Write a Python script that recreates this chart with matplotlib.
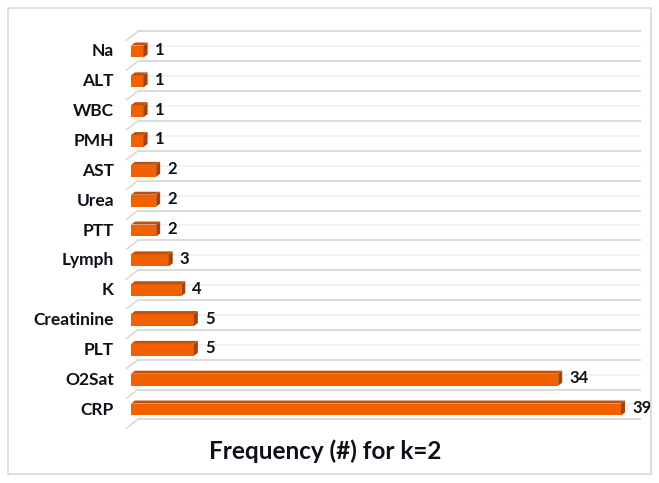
import numpy as np
import matplotlib
matplotlib.use('Agg')
from matplotlib import pyplot as plt
from matplotlib.patches import Rectangle, Polygon

# Data, listed top to bottom as in the chart
features = ['Na', 'ALT', 'WBC', 'PMH', 'AST', 'Urea', 'PTT', 'Lymph', 'K',
            'Creatinine', 'PLT', 'O2Sat', 'CRP']
counts = [1, 1, 1, 1, 2, 2, 2, 3, 4, 5, 5, 34, 39]
title = 'Frequency (#) for k=2'

plt.rcParams['font.family'] = ['Lato', 'DejaVu Sans']

W, H = 659, 483
fig = plt.figure(figsize=(W / 100, H / 100), dpi=100)

# Axes placed in pixel terms
left, right, top, bottom = 125, 641, 30, 430
ax = fig.add_axes([left / W, 1 - bottom / H, (right - left) / W, (bottom - top) / H])

pos = np.arange(len(features))
ax.set_xlim(-0.48, 40.59)
ax.set_ylim(12.737, -0.670)

h = 0.5      # bar thickness
dx = 0.32    # 3D depth in x
dy = 0.1     # 3D depth in y

front = '#f26100'
top_c = '#c24f0a'
side_c = '#a9420a'
ink = '#0f0f18'

# 3D-ish gridlines at category boundaries
for b in np.arange(-0.5, len(features) + 0.5, 1.0):
    ax.plot([0.55, 40.5], [b - 0.12, b - 0.12], color='#dadada', lw=1.4, zorder=1)
    ax.plot([-0.35, 0.55], [b + 0.17, b - 0.12], color='#dadada', lw=1.2, zorder=1)
    if b < len(features) - 0.5:
        ax.plot([0.55, 40.5], [b + 0.38, b + 0.38], color='#f0f0f0', lw=1.2, zorder=1)

for c, v in zip(pos, counts):
    yt = c - h / 2 + dy
    yb = c + h / 2
    ax.add_patch(Rectangle((0, yt), v, yb - yt, facecolor=front, edgecolor='none', zorder=3))
    ax.add_patch(Polygon([(0, yt), (v, yt), (v + dx, yt - dy), (dx, yt - dy)],
                         closed=True, facecolor=top_c, edgecolor='none', zorder=3))
    ax.add_patch(Polygon([(v, yt), (v + dx, yt - dy), (v + dx, yb - dy), (v, yb)],
                         closed=True, facecolor=side_c, edgecolor='none', zorder=3))
    ax.annotate(str(v), xy=(v + dx, c), xytext=(5, 0), textcoords='offset points',
                va='center', ha='left', fontsize=12, fontweight='bold',
                color=ink, zorder=4, annotation_clip=False)

ax.set_yticks(pos)
ax.set_yticklabels(features, fontsize=12.5, fontweight='bold', color=ink)
ax.tick_params(axis='y', length=0, pad=8)
ax.set_xticks([])
for s in ax.spines.values():
    s.set_visible(False)

fig.text(325 / W, 1 - 451 / H, title, ha='center', va='center',
         fontsize=17.5, fontweight='bold', color=ink)

# Light outer frame
fig.patches.append(Rectangle((8 / W, 9 / H), 643 / W, 466 / H, transform=fig.transFigure,
                             fill=False, edgecolor='#d9d9d9', lw=1.2, zorder=0))

fig.savefig('out.png', dpi=100)
